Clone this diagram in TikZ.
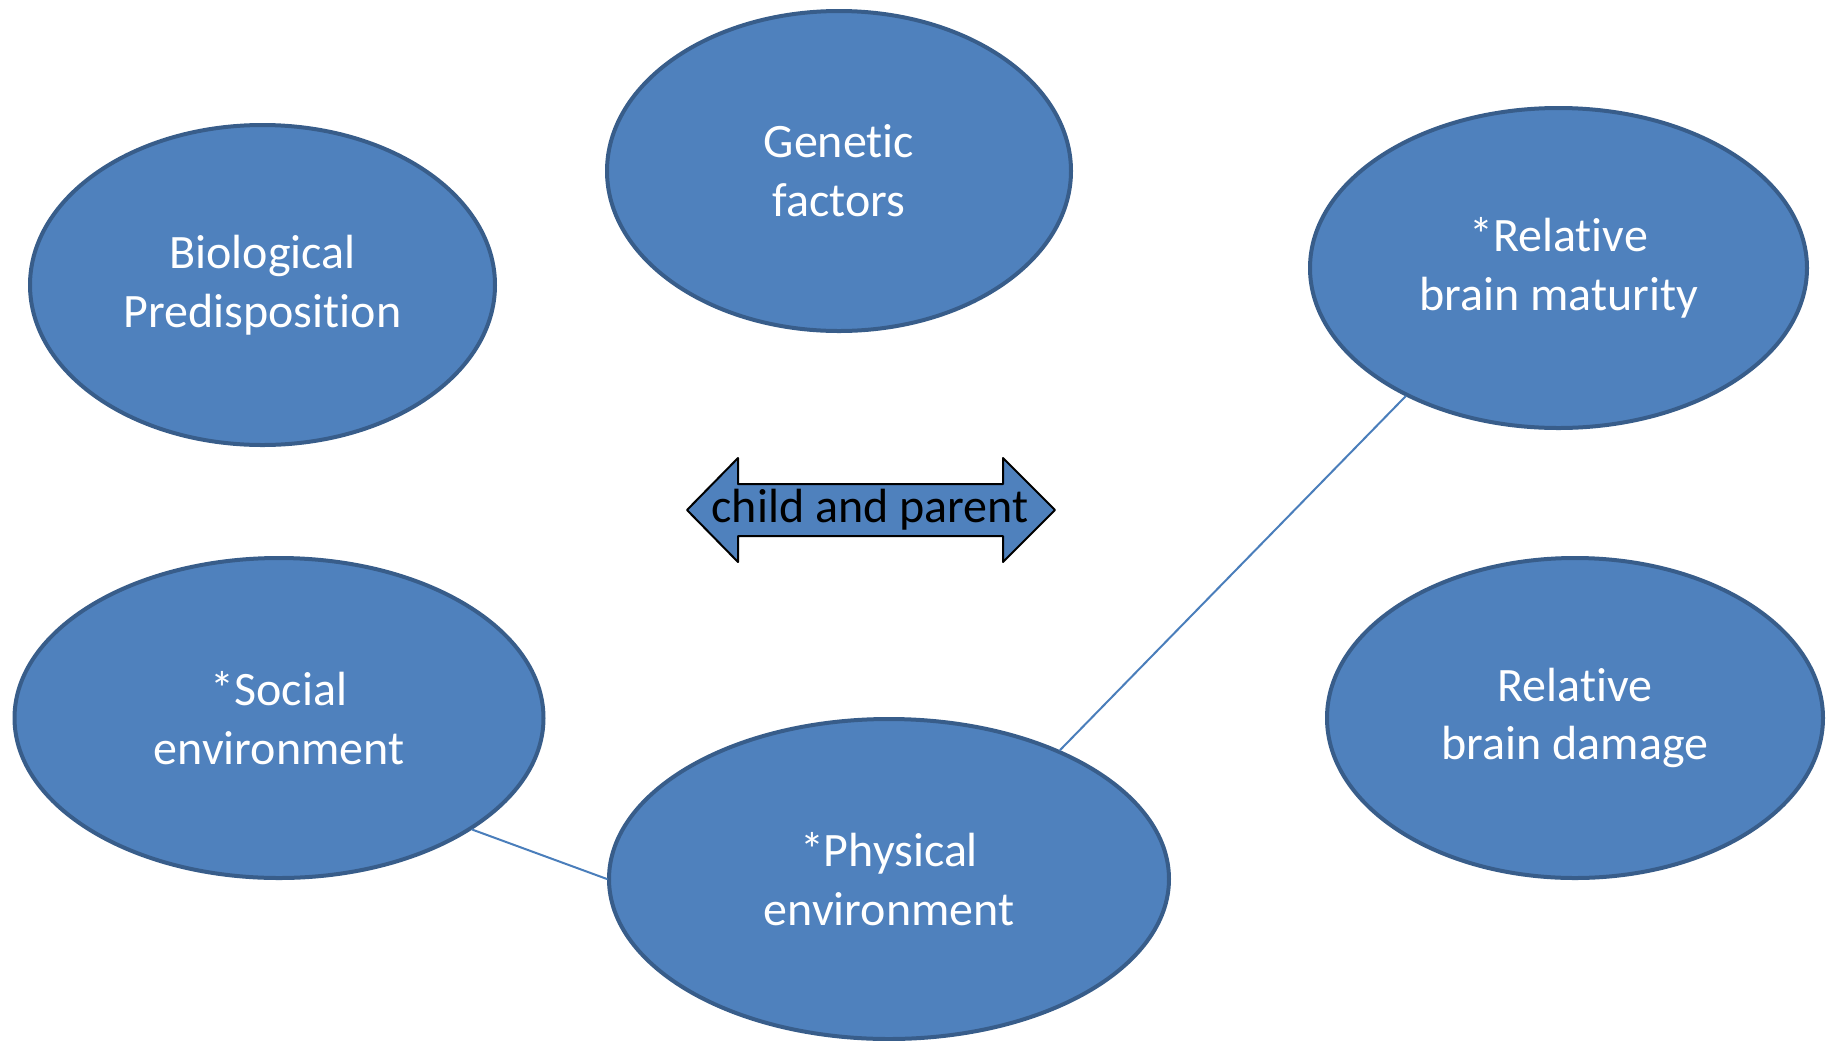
\documentclass[tikz,border=0pt]{standalone}
\usepackage{fontspec}
\setmainfont{Carlito}[Ligatures=NoCommon]
\usetikzlibrary{shapes.geometric}
\definecolor{bubblefill}{HTML}{4F81BD}
\definecolor{bubbleedge}{HTML}{385D8A}
\definecolor{linkblue}{HTML}{4A7EBB}
\begin{document}
\begin{tikzpicture}[line cap=round,line join=round,x=0.5pt,y=-0.5pt,
  bubble/.style={ellipse,draw=bubbleedge,fill=bubblefill,line width=2pt,minimum height=160pt,
    inner sep=0pt,text=white,align=center,font=\fontsize{24}{29.4}\selectfont},
  link/.style={draw=linkblue,line width=1pt}]
\useasboundingbox (0,0) rectangle (1833,1040);
\node[bubble,minimum width=232.5pt] (bio) at (262.5,285) {Biological\\Predisposition};
\node[bubble,minimum width=232pt] (gen) at (839,171) {Genetic\\factors};
\node[bubble,minimum width=248.5pt] (mat) at (1558.5,268) {*Relative\\brain maturity};
\node[bubble,minimum width=264.5pt] (soc) at (279,718) {*Social\\environment};
\node[bubble,minimum width=280pt] (phy) at (889,879) {*Physical\\environment};
\node[bubble,minimum width=248pt] (dam) at (1575,718) {Relative\\brain damage};
% double arrow
\draw [fill=bubblefill,line width=1pt] (687,510)--(738,458)--(738,484)--(1003,484)--(1003,458)--(1055,510)
  --(1003,562)--(1003,536)--(738,536)--(738,562)--cycle;
\node[font=\fontsize{24}{29.4}\selectfont] (cp) at (870,510) {child and parent};
\draw [link] (soc.-30.2)--(phy.west);
\draw [link] (phy.37.3)--(mat.-140.8);
\end{tikzpicture}
\end{document}
